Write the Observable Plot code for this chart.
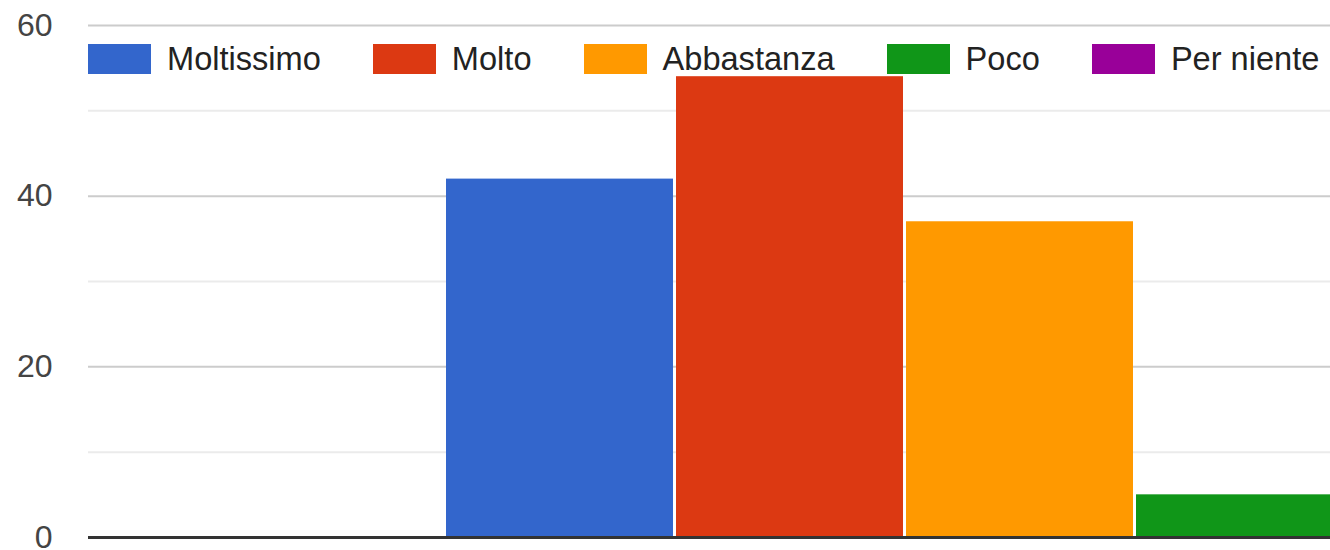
<!DOCTYPE html>
<html>
<head>
<meta charset="utf-8">
<script src="https://cdn.jsdelivr.net/npm/d3@7"></script>
<script src="https://cdn.jsdelivr.net/npm/@observablehq/plot@0.6"></script>
<style>
  html, body { margin: 0; padding: 0; background: #fff; overflow: hidden; }
  #wrap { position: relative; width: 1330px; height: 550px; font-family: "Liberation Sans", Arial, sans-serif; }
  #legend { position: absolute; left: 88px; top: 44px; display: flex; align-items: center; white-space: nowrap; }
  .item { display: flex; align-items: center; margin-right: 52px; }
  .sw { width: 63px; height: 30px; box-sizing: border-box; margin-right: 16px; }
  .lab { font-size: 32.6px; color: #222; line-height: 30px; }
</style>
</head>
<body>
<div id="wrap"><div id="chart"></div><div id="legend"></div></div>
<script>
const series = ["Moltissimo", "Molto", "Abbastanza", "Poco", "Per niente"];
const values = [42, 54, 37, 5, 0];
const colors = ["#3366cc", "#dc3912", "#ff9900", "#109618", "#990099"];
const majorTicks = [0, 20, 40, 60];
const minorTicks = [10, 30, 50];

const data = series.map((s, i) => ({series: s, value: values[i]}));

const chart = Plot.plot({
  width: 1330,
  height: 550,
  marginLeft: 88,
  marginRight: 0,
  marginTop: 25,
  marginBottom: 13,
  style: {fontFamily: "'Liberation Sans', Arial, sans-serif", background: "#fff"},
  x: {type: "band", domain: series, range: [445, 1595], paddingInner: 0.013, paddingOuter: 0, axis: null},
  y: {domain: [0, 60], axis: null},
  color: {domain: series, range: colors},
  marks: [
    Plot.ruleY(minorTicks, {stroke: "#ebebeb", strokeWidth: 2}),
    Plot.ruleY(majorTicks.filter(d => d !== 0), {stroke: "#cccccc", strokeWidth: 2}),
    Plot.barY(data, {x: "series", y: "value", fill: "series"}),
    Plot.ruleY([0], {stroke: "#333333", strokeWidth: 3}),
    Plot.axisY({ticks: majorTicks, tickSize: 0, tickPadding: 36, fontSize: 32, fill: "#444", label: null})
  ]
});
document.getElementById("chart").appendChild(chart);

const legend = document.getElementById("legend");
series.forEach((s, i) => {
  const it = document.createElement("div");
  it.className = "item";
  const sw = document.createElement("div");
  sw.className = "sw";
  sw.style.background = colors[i];
  const lab = document.createElement("span");
  lab.className = "lab";
  lab.textContent = s;
  it.appendChild(sw);
  it.appendChild(lab);
  legend.appendChild(it);
});
</script>
</body>
</html>
